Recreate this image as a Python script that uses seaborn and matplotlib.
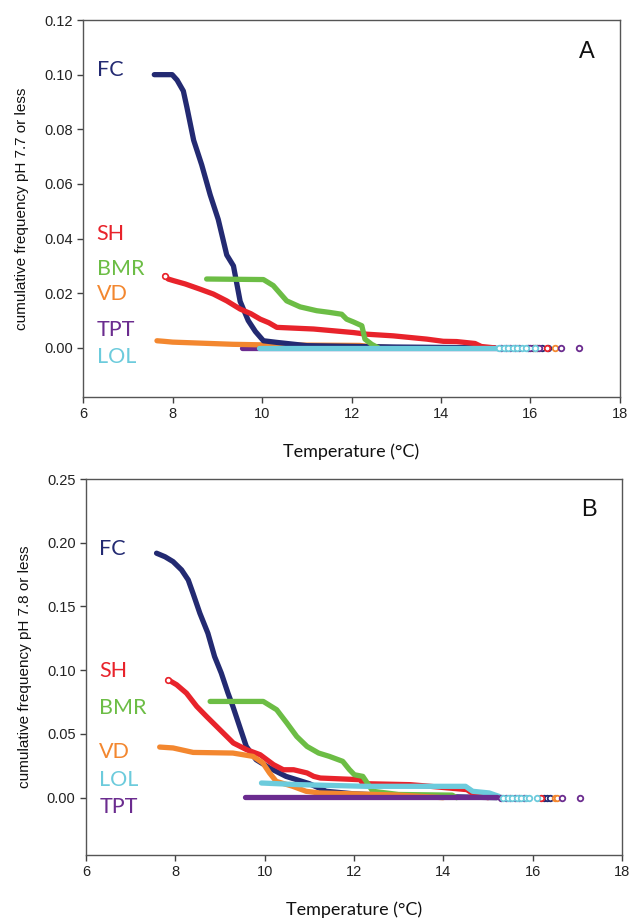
import numpy as np
import pandas as pd
import seaborn as sns
import matplotlib.pyplot as plt

sns.set_style("ticks")
plt.rcParams['font.family'] = ['Liberation Sans', 'DejaVu Sans']

# ---- panel A : cumulative frequency of pH 7.7 or less ----
fc_a_t = [7.59, 7.99, 8.10, 8.24, 8.32, 8.47, 8.65, 8.84, 9.02, 9.21, 9.36, 9.51, 9.69, 9.85, 10.03, 10.33, 11.0, 13.0, 15.2]
fc_a_f = [0.100, 0.100, 0.098, 0.094, 0.088, 0.076, 0.067, 0.056, 0.047, 0.034, 0.030, 0.017, 0.010, 0.006, 0.0026, 0.0020, 0.0008, 0.0003, 0.0]
sh_a_t = [7.83, 7.90, 8.02, 8.28, 8.61, 8.91, 9.21, 9.51, 9.75, 9.96, 10.15, 10.33, 11.15, 12.04, 12.34, 12.93, 13.68, 14.05, 14.35, 14.76, 14.9, 15.2]
sh_a_f = [0.0264, 0.0252, 0.0246, 0.0234, 0.0215, 0.0197, 0.0172, 0.0142, 0.0125, 0.0105, 0.0092, 0.0075, 0.0069, 0.0056, 0.0050, 0.0044, 0.0032, 0.0024, 0.0023, 0.0016, 0.0005, 0.0]
bmr_a_t = [8.76, 10.03, 10.25, 10.40, 10.55, 10.85, 11.22, 11.50, 11.78, 11.89, 12.04, 12.23, 12.30, 12.45, 12.6]
bmr_a_f = [0.0252, 0.0250, 0.0228, 0.0200, 0.0172, 0.0150, 0.0136, 0.0130, 0.0123, 0.0105, 0.0095, 0.0081, 0.0032, 0.0013, 0.0]
vd_a_t = [7.65, 7.80, 8.0, 8.5, 9.35, 10.0, 11.07, 12.18, 12.45, 13.0]
vd_a_f = [0.0026, 0.0024, 0.0021, 0.0018, 0.0013, 0.0011, 0.0010, 0.0009, 0.0004, 0.0]
tpt_a_t = [9.55, 15.3]
tpt_a_f = [0.0, 0.0]
lol_a_t = [9.92, 15.27]
lol_a_f = [0.0, 0.0]

# isolated readings at the warm end (frequency 0)
fc_a_tail = [15.95, 16.05, 16.15, 16.25, 16.4]
sh_a_tail = [16.37]
vd_a_tail = [16.1, 16.55]
tpt_a_tail = [15.35, 15.45, 15.55, 15.65, 15.75, 16.0, 16.2, 16.68, 17.08]
lol_a_tail = [15.3, 15.4, 15.5, 15.6, 15.7, 15.8, 15.9, 16.1]

# ---- panel B : cumulative frequency of pH 7.8 or less ----
fc_b_t = [7.58, 7.77, 7.95, 8.14, 8.29, 8.40, 8.55, 8.73, 8.88, 9.03, 9.18, 9.29, 9.44, 9.59, 9.81, 10.11, 10.48, 11.0, 11.38, 12.0, 13.0, 15.2]
fc_b_f = [0.1918, 0.189, 0.1852, 0.1787, 0.1708, 0.160, 0.1447, 0.129, 0.1107, 0.0977, 0.082, 0.0716, 0.0559, 0.0402, 0.0298, 0.0233, 0.0167, 0.0110, 0.0050, 0.0030, 0.0015, 0.0]
sh_b_t = [7.84, 8.03, 8.25, 8.48, 8.70, 9.0, 9.30, 9.60, 9.90, 10.20, 10.42, 10.65, 10.95, 11.10, 11.25, 12.14, 12.2, 13.26, 13.71, 14.53, 14.67, 15.0]
sh_b_f = [0.0925, 0.0886, 0.082, 0.0716, 0.0637, 0.0533, 0.0429, 0.0376, 0.0337, 0.0259, 0.0219, 0.0219, 0.0194, 0.0167, 0.0154, 0.0141, 0.0110, 0.0102, 0.0089, 0.0063, 0.0031, 0.0]
bmr_b_t = [8.78, 9.97, 10.27, 10.50, 10.72, 10.95, 11.08, 11.21, 11.45, 11.75, 11.9, 12.01, 12.2, 12.35, 12.42, 13.0, 14.2, 14.3]
bmr_b_f = [0.0755, 0.0755, 0.069, 0.0585, 0.048, 0.0402, 0.0376, 0.035, 0.0324, 0.0285, 0.022, 0.018, 0.0167, 0.0089, 0.005, 0.0025, 0.002, 0.0]
vd_b_t = [7.65, 7.95, 8.40, 9.29, 9.74, 9.96, 10.11, 10.26, 10.63, 10.93, 11.23, 12.0, 13.0, 14.0]
vd_b_f = [0.0397, 0.039, 0.0355, 0.035, 0.0324, 0.0272, 0.0194, 0.0128, 0.0089, 0.005, 0.0037, 0.003, 0.002, 0.0]
lol_b_t = [9.93, 10.78, 12.27, 14.5, 14.66, 15.03, 15.25]
lol_b_f = [0.0115, 0.0102, 0.0089, 0.0089, 0.005, 0.0037, 0.001]
tpt_b_t = [9.55, 15.2]
tpt_b_f = [0.0005, 0.0005]

fc_b_tail = [16.25, 16.32, 16.4]
sh_b_tail = [16.2]
vd_b_tail = [16.5, 16.55]
tpt_b_tail = [15.3, 15.4, 15.5, 15.6, 15.7, 15.8, 16.67, 17.06]
lol_b_tail = [15.35, 15.45, 15.55, 15.65, 15.75, 15.85, 15.92, 16.1]

sites_a = ["TPT", "VD", "FC", "SH", "BMR", "LOL"]
sites_b = ["FC", "SH", "BMR", "VD", "LOL", "TPT"]

colors = {"FC": "#232a72", "SH": "#e8232b", "BMR": "#6cbd45", "VD": "#f3872f",
          "TPT": "#6b2c8f", "LOL": "#6ccbdc"}

curves_a = {"FC": (fc_a_t, fc_a_f), "SH": (sh_a_t, sh_a_f), "BMR": (bmr_a_t, bmr_a_f),
            "VD": (vd_a_t, vd_a_f), "TPT": (tpt_a_t, tpt_a_f), "LOL": (lol_a_t, lol_a_f)}
tails_a = {"FC": fc_a_tail, "SH": sh_a_tail, "VD": vd_a_tail, "TPT": tpt_a_tail, "LOL": lol_a_tail}
curves_b = {"FC": (fc_b_t, fc_b_f), "SH": (sh_b_t, sh_b_f), "BMR": (bmr_b_t, bmr_b_f),
            "VD": (vd_b_t, vd_b_f), "TPT": (tpt_b_t, tpt_b_f), "LOL": (lol_b_t, lol_b_f)}
tails_b = {"FC": fc_b_tail, "SH": sh_b_tail, "VD": vd_b_tail, "TPT": tpt_b_tail, "LOL": lol_b_tail}


def long_df(curves, order):
    rows = []
    for s in order:
        t, f = curves[s]
        rows.append(pd.DataFrame({"temp": t, "freq": f, "site": s}))
    return pd.concat(rows, ignore_index=True)


fig = plt.figure(figsize=(6.3, 9.18), dpi=100)
ax_a = fig.add_axes([0.132, 0.5675, 0.852, 0.4107])
ax_b = fig.add_axes([0.1365, 0.0686, 0.8505, 0.4096])

panels = [
    (ax_a, curves_a, tails_a, sites_a, (-0.018, 0.12), np.arange(0, 0.121, 0.02),
     "cumulative frequency pH 7.7 or less", "A", 0.1083,
     [("FC", 0.1016), ("SH", 0.0418), ("BMR", 0.029), ("VD", 0.0198), ("TPT", 0.0066), ("LOL", -0.0033)]),
    (ax_b, curves_b, tails_b, sites_b, (-0.045, 0.25), np.arange(0, 0.251, 0.05),
     "cumulative frequency pH 7.8 or less", "B", 0.2257,
     [("FC", 0.195), ("SH", 0.0995), ("BMR", 0.0705), ("VD", 0.036), ("LOL", 0.0141), ("TPT", -0.007)]),
]

for ax, curves, tails, order, ylim, yticks, ylab, letter, letter_y, labels in panels:
    df = long_df(curves, order)
    sns.lineplot(data=df, x="temp", y="freq", hue="site", hue_order=order, palette=colors,
                 estimator=None, sort=False, linewidth=3.8, legend=False, ax=ax,
                 solid_capstyle="round")
    # scattered warm readings drawn as open circles
    for s, xs in tails.items():
        ax.plot(xs, np.zeros(len(xs)), "o", ms=4, mfc="white", mec=colors[s], mew=1.3, zorder=3)
    # open marker at the start of SH
    ax.plot(curves["SH"][0][0], curves["SH"][1][0], "o", ms=4, mfc="white",
            mec=colors["SH"], mew=1.2, zorder=4)

    ax.set_xlim(6, 18)
    ax.set_ylim(*ylim)
    ax.set_xticks(range(6, 19, 2))
    ax.set_yticks(yticks)
    ax.set_yticklabels([f"{v:.2f}" for v in yticks])
    ax.tick_params(direction="out", length=4, width=1, color="#404040", labelsize=10.5,
                   labelcolor="#222222")
    for sp in ax.spines.values():
        sp.set_linewidth(1)
        sp.set_color("#555555")
    ax.set_ylabel(ylab, fontsize=11, labelpad=11, color="#111111")
    ax.set_xlabel("Temperature (°C)", family="Lato", fontsize=13, labelpad=16, color="#111111")

    for name, y in labels:
        ax.text(6.3, y, name, family="Lato", fontsize=15.5, color=colors[name],
                va="center", ha="left")
    ax.text(17.26, letter_y, letter, fontsize=17, ha="center", va="center", color="#111111")

fig.savefig("out.png", dpi=100)
